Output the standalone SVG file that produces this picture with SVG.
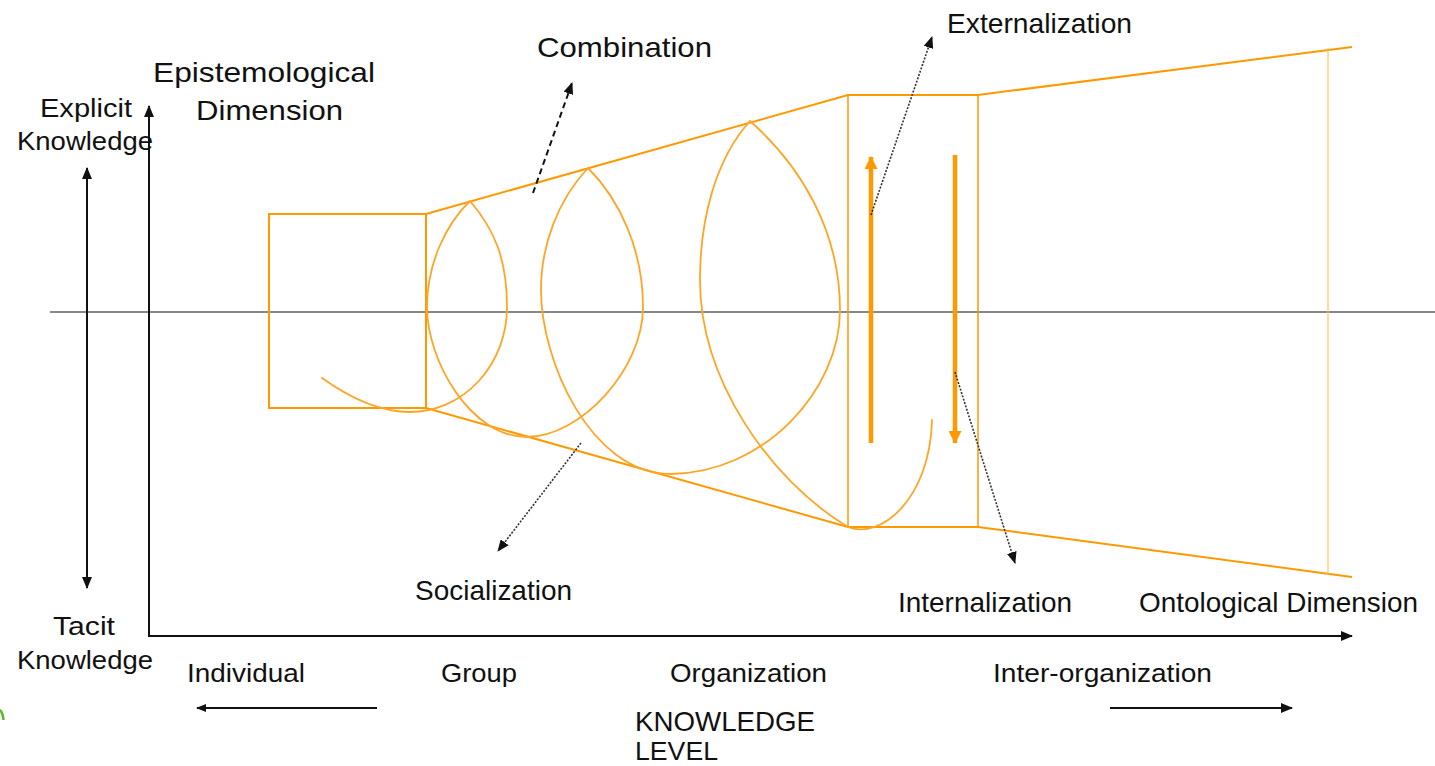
<svg xmlns="http://www.w3.org/2000/svg" width="1435" height="766" viewBox="0 0 1435 766">
  <defs>
    <style>
      .lbl { font-family: "Liberation Sans", Arial, sans-serif; font-size: 28px; fill: #111; }
      .side { font-family: "Liberation Sans", Arial, sans-serif; font-size: 26px; fill: #111; }
      .axis { stroke: #111; stroke-width: 2; fill: none; }
      .funnel { stroke: #FF9900; stroke-width: 2; fill: none; }
      .thin { stroke: #FF9900; stroke-width: 1.5; fill: none; }
      .spiral { stroke: #FFA526; stroke-width: 1.8; fill: none; stroke-linecap: round; }
      .dot { stroke: #333; stroke-width: 1.6; stroke-dasharray: 2 1.5; fill: none; }
      .dash { stroke: #111; stroke-width: 2; stroke-dasharray: 6 4; fill: none; }
      .flow { stroke: #FF9900; stroke-width: 4.5; fill: none; }
    </style>
    <marker id="head" markerUnits="userSpaceOnUse" markerWidth="12" markerHeight="10" refX="11" refY="5" orient="auto-start-reverse">
      <path d="M0,0 L12,5 L0,10 z" fill="#111"/>
    </marker>
    <marker id="headSmall" markerUnits="userSpaceOnUse" markerWidth="10" markerHeight="8" refX="9" refY="4" orient="auto-start-reverse">
      <path d="M0,0 L10,4 L0,8 z" fill="#111"/>
    </marker>
    <marker id="headOrange" markerUnits="userSpaceOnUse" markerWidth="13" markerHeight="13" refX="12" refY="6.5" orient="auto">
      <path d="M0,0 L13,6.5 L0,13 z" fill="#FF9900"/>
    </marker>
  </defs>

  <rect width="1435" height="766" fill="#fff"/>

  <!-- middle reference line between tacit and explicit -->
  <line id="midline" x1="50" y1="312" x2="1435" y2="312" stroke="#888" stroke-width="2"/>

  <!-- funnel outline -->
  <g id="funnel">
    <rect x="269" y="214" width="157" height="194" class="funnel"/>
    <polyline points="426,214 848,95 978,95 1352,47" class="funnel"/>
    <polyline points="426,408 848,527 978,527 1352,577" class="funnel"/>
    <line x1="848" y1="95" x2="848" y2="527" class="thin"/>
    <line x1="978" y1="95" x2="978" y2="527" class="thin"/>
    <line x1="1328" y1="48" x2="1328" y2="575" stroke="#FFC266" stroke-width="1.2"/>
  </g>

  <!-- knowledge spiral -->
  <g id="spiral">
    <path class="spiral" d="M322,378 C350,398 380,412 410,412 A97,105 0 0 0 507,307 C507,260 495,230 470,201 C445,225 427,265 427,307 C427,360 470,437 527,437 C580,437 643,370 643,307 C643,250 620,200 588,168 C558,200 541,245 541,290 C541,360 590,473 670,474 C765,473 840,390 840,310 C840,230 800,165 750,121 C715,160 700,220 700,280 C700,380 770,480 848,527 C880,540 930,500 932,420"/>
  </g>

  <!-- externalization / internalization flows -->
  <g id="flows">
    <line x1="871" y1="443" x2="871" y2="157" class="flow" marker-end="url(#headOrange)"/>
    <line x1="955" y1="155" x2="955" y2="443" class="flow" marker-end="url(#headOrange)"/>
  </g>

  <!-- axes and level arrows -->
  <g id="connectors">
    <polyline points="149,106 149,636 1352,636" class="axis" marker-start="url(#head)" marker-end="url(#head)"/>
    <line x1="87" y1="168" x2="87" y2="588" class="axis" marker-start="url(#head)" marker-end="url(#head)"/>
    <line x1="377" y1="708" x2="197" y2="708" class="axis" marker-end="url(#headSmall)"/>
    <line x1="1110" y1="708" x2="1292" y2="708" class="axis" marker-end="url(#head)"/>
    <line x1="533" y1="193" x2="572" y2="83" class="dash" marker-end="url(#head)"/>
    <line x1="581" y1="443" x2="498" y2="551" class="dot" marker-end="url(#head)"/>
    <line x1="871" y1="215" x2="932" y2="37" class="dot" marker-end="url(#head)"/>
    <line x1="955" y1="372" x2="1015" y2="563" class="dot" marker-end="url(#head)"/>
  </g>

  <!-- small green mark at the lower left edge -->
  <path id="mark" d="M0,710 Q3,713 3.5,720" stroke="#5DB82A" stroke-width="2.5" fill="none"/>

  <!-- labels -->
  <g id="label-epistemological">
    <text class="lbl" x="153" y="82" textLength="222" lengthAdjust="spacingAndGlyphs">Epistemological</text>
    <text class="lbl" x="196" y="120" textLength="147" lengthAdjust="spacingAndGlyphs">Dimension</text>
  </g>
  <g id="label-explicit">
    <text class="side" x="40" y="117" textLength="92" lengthAdjust="spacingAndGlyphs">Explicit</text>
    <text class="side" x="17" y="150" textLength="136" lengthAdjust="spacingAndGlyphs">Knowledge</text>
  </g>
  <g id="label-tacit">
    <text class="side" x="53" y="635" textLength="62" lengthAdjust="spacingAndGlyphs">Tacit</text>
    <text class="side" x="17" y="669" textLength="136" lengthAdjust="spacingAndGlyphs">Knowledge</text>
  </g>
  <g id="label-combination">
    <text class="lbl" x="537" y="57" textLength="175" lengthAdjust="spacingAndGlyphs">Combination</text>
  </g>
  <g id="label-externalization">
    <text class="lbl" x="947" y="33" textLength="185" lengthAdjust="spacingAndGlyphs">Externalization</text>
  </g>
  <g id="label-socialization">
    <text class="lbl" x="415" y="600" textLength="157" lengthAdjust="spacingAndGlyphs">Socialization</text>
  </g>
  <g id="label-internalization">
    <text class="lbl" x="898" y="612" textLength="174" lengthAdjust="spacingAndGlyphs">Internalization</text>
  </g>
  <g id="label-ontological">
    <text class="lbl" x="1139" y="612" textLength="279" lengthAdjust="spacingAndGlyphs">Ontological Dimension</text>
  </g>
  <g id="label-levels">
    <text class="side" x="187" y="682" textLength="118" lengthAdjust="spacingAndGlyphs">Individual</text>
    <text class="side" x="441" y="682" textLength="76" lengthAdjust="spacingAndGlyphs">Group</text>
    <text class="side" x="670" y="682" textLength="157" lengthAdjust="spacingAndGlyphs">Organization</text>
    <text class="side" x="993" y="682" textLength="219" lengthAdjust="spacingAndGlyphs">Inter-organization</text>
  </g>
  <g id="label-knowledge-level">
    <text class="lbl" x="635" y="731" textLength="180" lengthAdjust="spacingAndGlyphs">KNOWLEDGE</text>
    <text class="side" x="635" y="760" textLength="83" lengthAdjust="spacingAndGlyphs">LEVEL</text>
  </g>
</svg>
